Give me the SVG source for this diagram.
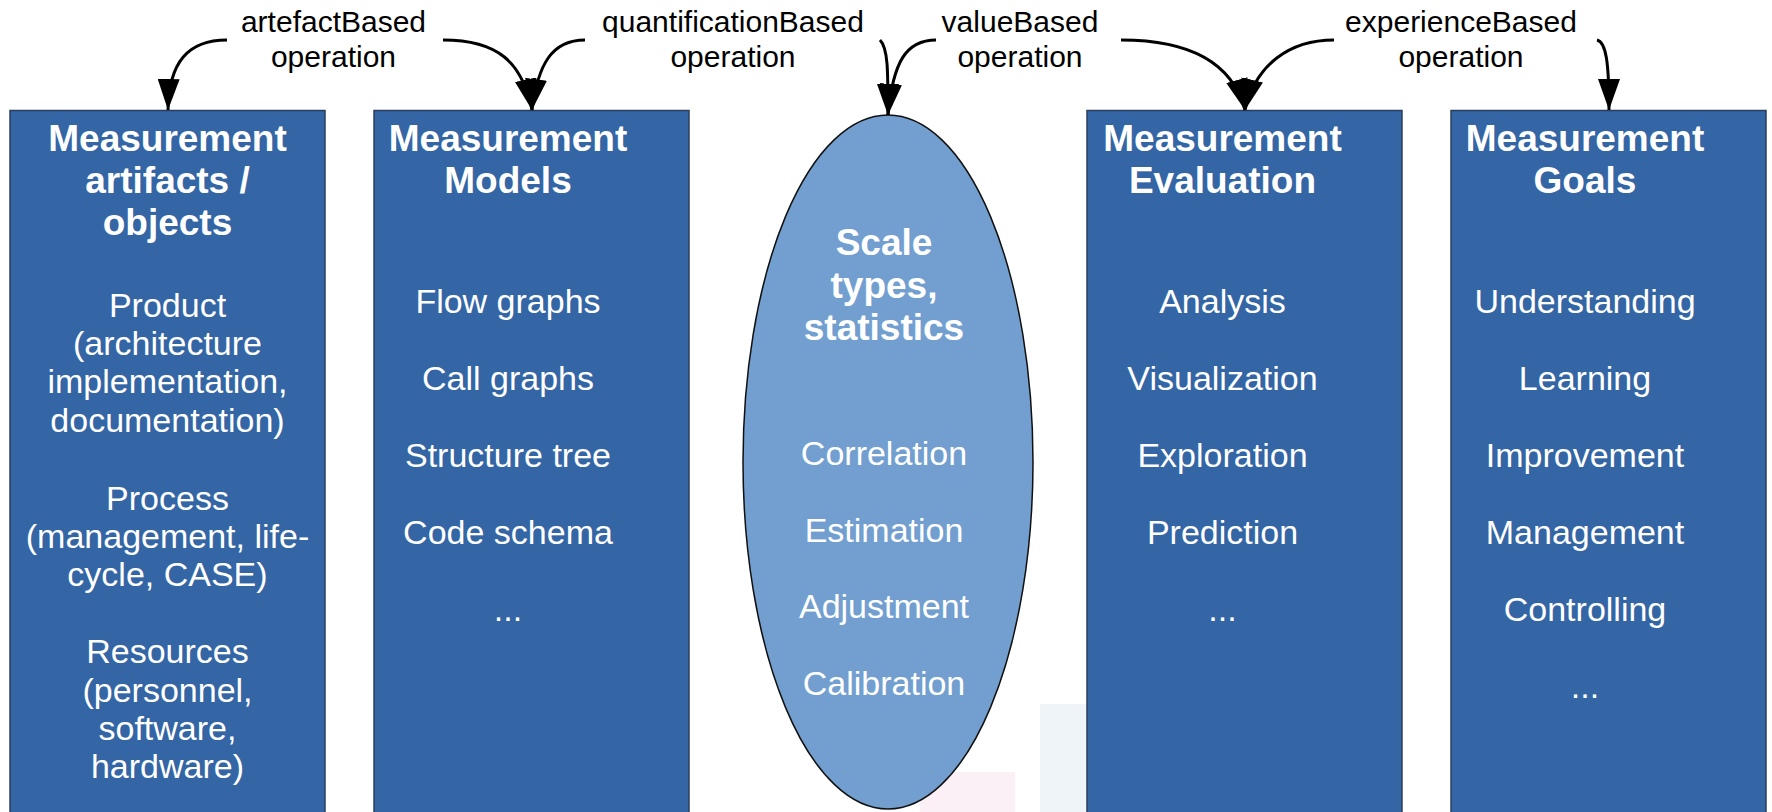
<svg xmlns="http://www.w3.org/2000/svg" width="1772" height="812" viewBox="0 0 1772 812">
<defs>
<style>
.box{fill:#3465a4;stroke:#2b3f5c;stroke-width:1.5}
.ell{fill:#729fcf;stroke:#111;stroke-width:1.5}
.t{font-family:"Liberation Sans",Arial,sans-serif;fill:#fff;text-anchor:middle}
.h{font-size:37px;font-weight:bold}
.b{font-size:34px}
.lbl{font-family:"Liberation Sans",Arial,sans-serif;font-size:30px;fill:#000;text-anchor:middle}
.c{fill:none;stroke:#000;stroke-width:3}
</style>
<marker id="ah" viewBox="0 -11 31 22" refX="31" refY="0" markerWidth="31" markerHeight="22" markerUnits="userSpaceOnUse" orient="auto">
<path d="M0,-11 L31,0 L0,11 z" fill="#000"/>
</marker>
</defs>
<rect width="1772" height="812" fill="#fff"/>
<rect x="920" y="772" width="95" height="40" fill="#faf0f6"/>
<rect x="1040" y="704" width="47" height="108" fill="#eff4f9"/>

<g id="artifacts">
<rect class="box" x="10" y="110.5" width="315" height="710"/>
<text class="t h" x="167.5"><tspan x="167.5" y="151">Measurement</tspan><tspan x="167.5" y="193">artifacts /</tspan><tspan x="167.5" y="235">objects</tspan></text>
<text class="t b"><tspan x="167.5" y="317">Product</tspan><tspan x="167.5" y="355">(architecture</tspan><tspan x="167.5" y="393">implementation,</tspan><tspan x="167.5" y="432">documentation)</tspan><tspan x="167.5" y="510">Process</tspan><tspan x="167.5" y="548">(management, life-</tspan><tspan x="167.5" y="586">cycle, CASE)</tspan><tspan x="167.5" y="663">Resources</tspan><tspan x="167.5" y="702">(personnel,</tspan><tspan x="167.5" y="740">software,</tspan><tspan x="167.5" y="778">hardware)</tspan></text>
</g>

<g id="models">
<rect class="box" x="374" y="110.5" width="315" height="710"/>
<text class="t h"><tspan x="508" y="151">Measurement</tspan><tspan x="508" y="193">Models</tspan></text>
<text class="t b"><tspan x="508" y="313">Flow graphs</tspan><tspan x="508" y="390">Call graphs</tspan><tspan x="508" y="467">Structure tree</tspan><tspan x="508" y="544">Code schema</tspan><tspan x="508" y="621">...</tspan></text>
</g>

<g id="scale">
<ellipse class="ell" cx="888" cy="462" rx="145" ry="347"/>
<text class="t h"><tspan x="884" y="255">Scale</tspan><tspan x="884" y="298">types,</tspan><tspan x="884" y="340">statistics</tspan></text>
<text class="t b"><tspan x="884" y="465">Correlation</tspan><tspan x="884" y="542">Estimation</tspan><tspan x="884" y="618">Adjustment</tspan><tspan x="884" y="695">Calibration</tspan></text>
</g>

<g id="evaluation">
<rect class="box" x="1087" y="110.5" width="315" height="710"/>
<text class="t h"><tspan x="1222.5" y="151">Measurement</tspan><tspan x="1222.5" y="193">Evaluation</tspan></text>
<text class="t b"><tspan x="1222.5" y="313">Analysis</tspan><tspan x="1222.5" y="390">Visualization</tspan><tspan x="1222.5" y="467">Exploration</tspan><tspan x="1222.5" y="544">Prediction</tspan><tspan x="1222.5" y="621">...</tspan></text>
</g>

<g id="goals">
<rect class="box" x="1451" y="110.5" width="315" height="710"/>
<text class="t h"><tspan x="1585" y="151">Measurement</tspan><tspan x="1585" y="193">Goals</tspan></text>
<text class="t b"><tspan x="1585" y="313">Understanding</tspan><tspan x="1585" y="390">Learning</tspan><tspan x="1585" y="467">Improvement</tspan><tspan x="1585" y="544">Management</tspan><tspan x="1585" y="621">Controlling</tspan><tspan x="1585" y="698">...</tspan></text>
</g>

<g id="connectors">
<path class="c" marker-end="url(#ah)" d="M227,40 C188,40 169,62 168,110"/>
<path class="c" marker-end="url(#ah)" d="M443,40 C498,40 522,62 532,110"/>
<path class="c" marker-end="url(#ah)" d="M585,40 C552,40 538,64 532,110"/>
<path class="c" marker-end="url(#ah)" d="M880,40 C888,48 888,70 888,115"/>
<path class="c" marker-end="url(#ah)" d="M936,40 C906,40 893,62 888,115"/>
<path class="c" marker-end="url(#ah)" d="M1121,40 C1190,40 1232,62 1245,110"/>
<path class="c" marker-end="url(#ah)" d="M1334,40 C1290,40 1256,64 1245,110"/>
<path class="c" marker-end="url(#ah)" d="M1597,40 C1606,42 1609,62 1609,110"/>
<text class="lbl"><tspan x="333.5" y="32">artefactBased</tspan><tspan x="333.5" y="67">operation</tspan></text>
<text class="lbl"><tspan x="733" y="32">quantificationBased</tspan><tspan x="733" y="67">operation</tspan></text>
<text class="lbl"><tspan x="1020" y="32">valueBased</tspan><tspan x="1020" y="67">operation</tspan></text>
<text class="lbl"><tspan x="1461" y="32">experienceBased</tspan><tspan x="1461" y="67">operation</tspan></text>
</g>
</svg>
